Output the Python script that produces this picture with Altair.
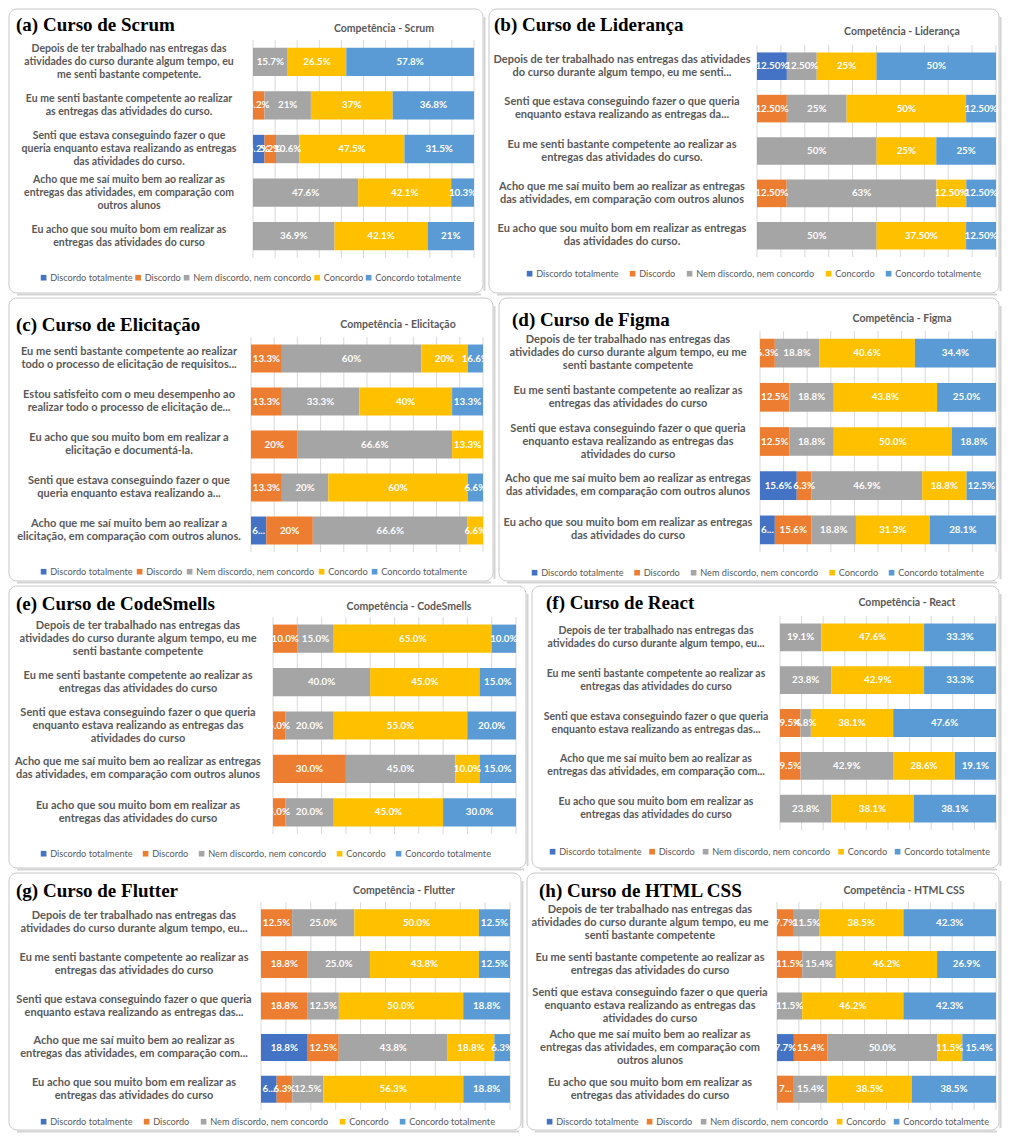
import altair as alt
import pandas as pd

CATS = ["Discordo totalmente", "Discordo", "Nem discordo, nem concordo", "Concordo", "Concordo totalmente"]
COLORS = ["#4472C4", "#ED7D31", "#A5A5A5", "#FFC000", "#5B9BD5"]

# ---------------- (a) Scrum ----------------
SCRUM_Q = [
    "Depois de ter trabalhado nas entregas das|atividades do curso durante algum tempo, eu|me senti bastante competente.",
    "Eu me senti bastante competente ao realizar|as entregas das atividades do curso.",
    "Senti que estava conseguindo fazer o que|queria enquanto estava realizando as entregas|das atividades do curso.",
    "Acho que me saí muito bem ao realizar as|entregas das atividades, em comparação com|outros alunos",
    "Eu acho que sou muito bom em realizar as|entregas das atividades do curso",
]
SCRUM_DT = [0, 0, 5.2, 0, 0]
SCRUM_D = [0, 5.2, 5.2, 0, 0]
SCRUM_N = [15.7, 21, 10.6, 47.6, 36.9]
SCRUM_C = [26.5, 37, 47.5, 42.1, 42.1]
SCRUM_CT = [57.8, 36.8, 31.5, 10.3, 21]

# ---------------- (b) Liderança ----------------
LID_Q = [
    "Depois de ter trabalhado nas entregas das atividades|do curso durante algum tempo, eu me senti...",
    "Senti que estava conseguindo fazer o que queria|enquanto estava realizando as entregas da...",
    "Eu me senti bastante competente ao realizar as|entregas das atividades do curso.",
    "Acho que me saí muito bem ao realizar as entregas|das atividades, em comparação com outros alunos",
    "Eu acho que sou muito bom em realizar as entregas|das atividades do curso.",
]
LID_DT = [12.5, 0, 0, 0, 0]
LID_D = [0, 12.5, 0, 12.5, 0]
LID_N = [12.5, 25, 50, 63, 50]
LID_C = [25, 50, 25, 12.5, 37.5]
LID_CT = [50, 12.5, 25, 12.5, 12.5]

# ---------------- (c) Elicitação ----------------
ELIC_Q = [
    "Eu me senti bastante competente ao realizar|todo o processo de elicitação de requisitos...",
    "Estou satisfeito com o meu desempenho ao|realizar todo o processo de elicitação de...",
    "Eu acho que sou muito bom em realizar a|elicitação e documentá-la.",
    "Senti que estava conseguindo fazer o que|queria enquanto estava realizando a...",
    "Acho que me saí muito bem ao realizar a|elicitação, em comparação com outros alunos.",
]
ELIC_DT = [0, 0, 0, 0, 6.6]
ELIC_D = [13.3, 13.3, 20, 13.3, 20]
ELIC_N = [60, 33.3, 66.6, 20, 66.6]
ELIC_C = [20, 40, 13.3, 60, 6.6]
ELIC_CT = [6.6, 13.3, 0, 6.6, 0]

# ---------------- (d) Figma ----------------
FIGMA_Q = [
    "Depois de ter trabalhado nas entregas das|atividades do curso durante algum tempo, eu me|senti bastante competente",
    "Eu me senti bastante competente ao realizar as|entregas das atividades do curso",
    "Senti que estava conseguindo fazer o que queria|enquanto estava realizando as entregas das|atividades do curso",
    "Acho que me saí muito bem ao realizar as entregas|das atividades, em comparação com outros alunos",
    "Eu acho que sou muito bom em realizar as entregas|das atividades do curso",
]
FIGMA_DT = [0, 0, 0, 15.6, 6.3]
FIGMA_D = [6.3, 12.5, 12.5, 6.3, 15.6]
FIGMA_N = [18.8, 18.8, 18.8, 46.9, 18.8]
FIGMA_C = [40.6, 43.8, 50.0, 18.8, 31.3]
FIGMA_CT = [34.4, 25.0, 18.8, 12.5, 28.1]

# ---------------- (e) CodeSmells ----------------
CODE_Q = [
    "Depois de ter trabalhado nas entregas das|atividades do curso durante algum tempo, eu me|senti bastante competente",
    "Eu me senti bastante competente ao realizar as|entregas das atividades do curso",
    "Senti que estava conseguindo fazer o que queria|enquanto estava realizando as entregas das|atividades do curso",
    "Acho que me saí muito bem ao realizar as entregas|das atividades, em comparação com outros alunos",
    "Eu acho que sou muito bom em realizar as|entregas das atividades do curso",
]
CODE_DT = [0, 0, 0, 0, 0]
CODE_D = [10, 0, 5, 30, 5]
CODE_N = [15, 40, 20, 45, 20]
CODE_C = [65, 45, 55, 10, 45]
CODE_CT = [10, 15, 20, 15, 30]

# ---------------- (f) React ----------------
REACT_Q = [
    "Depois de ter trabalhado nas entregas das|atividades do curso durante algum tempo, eu...",
    "Eu me senti bastante competente ao realizar as|entregas das atividades do curso",
    "Senti que estava conseguindo fazer o que queria|enquanto estava realizando as entregas das...",
    "Acho que me saí muito bem ao realizar as|entregas das atividades, em comparação com...",
    "Eu acho que sou muito bom em realizar as|entregas das atividades do curso",
]
REACT_DT = [0, 0, 0, 0, 0]
REACT_D = [0, 0, 9.5, 9.5, 0]
REACT_N = [19.1, 23.8, 4.8, 42.9, 23.8]
REACT_C = [47.6, 42.9, 38.1, 28.6, 38.1]
REACT_CT = [33.3, 33.3, 47.6, 19.1, 38.1]

# ---------------- (g) Flutter ----------------
FLUT_Q = [
    "Depois de ter trabalhado nas entregas das|atividades do curso durante algum tempo, eu...",
    "Eu me senti bastante competente ao realizar as|entregas das atividades do curso",
    "Senti que estava conseguindo fazer o que queria|enquanto estava realizando as entregas das...",
    "Acho que me saí muito bem ao realizar as|entregas das atividades, em comparação com...",
    "Eu acho que sou muito bom em realizar as|entregas das atividades do curso",
]
FLUT_DT = [0, 0, 0, 18.8, 6.3]
FLUT_D = [12.5, 18.8, 18.8, 12.5, 6.3]
FLUT_N = [25.0, 25.0, 12.5, 43.8, 12.5]
FLUT_C = [50.0, 43.8, 50.0, 18.8, 56.3]
FLUT_CT = [12.5, 12.5, 18.8, 6.3, 18.8]

# ---------------- (h) HTML CSS ----------------
HTML_Q = [
    "Depois de ter trabalhado nas entregas das|atividades do curso durante algum tempo, eu me|senti bastante competente",
    "Eu me senti bastante competente ao realizar as|entregas das atividades do curso",
    "Senti que estava conseguindo fazer o que queria|enquanto estava realizando as entregas das|atividades do curso",
    "Acho que me saí muito bem ao realizar as|entregas das atividades, em comparação com|outros alunos",
    "Eu acho que sou muito bom em realizar as|entregas das atividades do curso",
]
HTML_DT = [0, 0, 0, 7.7, 0]
HTML_D = [7.7, 11.5, 0, 15.4, 7.7]
HTML_N = [11.5, 15.4, 11.5, 50.0, 15.4]
HTML_C = [38.5, 46.2, 46.2, 11.5, 38.5]
HTML_CT = [42.3, 26.9, 42.3, 15.4, 38.5]

PANEL_TITLES = ["(a) Curso de Scrum", "(b) Curso de Liderança", "(c) Curso de Elicitação",
                "(d) Curso de Figma", "(e) Curso de CodeSmells", "(f) Curso de React",
                "(g) Curso de Flutter", "(h) Curso de HTML CSS"]
CHART_TITLES = ["Competência - Scrum", "Competência - Liderança", "Competência - Elicitação",
                "Competência - Figma", "Competência - CodeSmells", "Competência - React",
                "Competência - Flutter", "Competência - HTML CSS"]
LABEL_STYLES = ["short1", "short2", "short1", "fixed1", "fixed1", "fixed1", "fixed1", "fixed1"]
# data labels as printed in the figure where they differ from the plain value
LABEL_OVERRIDES = [{}, {}, {(0, 4): "16.6%", (4, 0): "6..."}, {(4, 0): "6..."}, {}, {},
                   {(4, 0): "6..."}, {(4, 1): "7..."}]
GRID = [0, 0.1, 0.2, 0.3, 0.4, 0.5, 0.6, 0.7, 0.8, 0.9, 1.0]

DATA = [
    (SCRUM_Q, [SCRUM_DT, SCRUM_D, SCRUM_N, SCRUM_C, SCRUM_CT]),
    (LID_Q, [LID_DT, LID_D, LID_N, LID_C, LID_CT]),
    (ELIC_Q, [ELIC_DT, ELIC_D, ELIC_N, ELIC_C, ELIC_CT]),
    (FIGMA_Q, [FIGMA_DT, FIGMA_D, FIGMA_N, FIGMA_C, FIGMA_CT]),
    (CODE_Q, [CODE_DT, CODE_D, CODE_N, CODE_C, CODE_CT]),
    (REACT_Q, [REACT_DT, REACT_D, REACT_N, REACT_C, REACT_CT]),
    (FLUT_Q, [FLUT_DT, FLUT_D, FLUT_N, FLUT_C, FLUT_CT]),
    (HTML_Q, [HTML_DT, HTML_D, HTML_N, HTML_C, HTML_CT]),
]

# ---------------- layout (page pixel coordinates) ----------------
# frame: (x0, y0, x1, y1); plot: (x0, y0, width, height); legend: (left x, centre y, column padding)
LAYOUT = [
    dict(frame=(8, 8, 482, 292), plot=(252, 39, 221, 218), title=(15, 24), ctitle=(383, 28), labc=128, qfs=10.5, legend=(38, 277, 0.5)),
    dict(frame=(487, 8, 997, 292), plot=(755, 44, 239, 212), title=(492, 24), ctitle=(900, 31), labc=620, qfs=11, legend=(523, 273, 9)),
    dict(frame=(8, 296, 492, 579), plot=(250, 335, 232, 215), title=(15, 323), ctitle=(397, 323), labc=128, qfs=11, legend=(38, 570, 2)),
    dict(frame=(497, 296, 997, 579), plot=(758, 329, 236, 221), title=(510, 318), ctitle=(900, 317), labc=626, qfs=11, legend=(528, 571, 8.5)),
    dict(frame=(8, 583, 525, 865), plot=(272, 614, 243, 217), title=(15, 601), ctitle=(408, 604), labc=137, qfs=11, legend=(38, 851, 8)),
    dict(frame=(530, 583, 997, 865), plot=(778, 613, 216, 214), title=(544, 600), ctitle=(905, 600), labc=654, qfs=10.5, legend=(546, 849, 5.5)),
    dict(frame=(8, 869, 520, 1126), plot=(260, 898, 249, 208), title=(15, 887), ctitle=(403, 887), labc=133, qfs=11, legend=(38, 1118, 9)),
    dict(frame=(525, 869, 997, 1126), plot=(775, 898, 219, 208), title=(537, 887), ctitle=(902, 887), labc=648, qfs=11, legend=(543, 1118, 6)),
]

FONT = "Lato"
GRAY_TXT = "#595959"
LINE_H = 13


def fmt(v, style):
    if style == "fixed1":
        return f"{v:.1f}%"
    if float(v) == int(v):
        return f"{int(v)}%"
    return f"{v:.2f}%" if style == "short2" else f"{v:.1f}%"


def panel(idx):
    questions, series = DATA[idx]
    qtext = [q.replace("|", "\n") for q in questions]
    L = LAYOUT[idx]
    fx0, fy0, fx1, fy1 = L["frame"]
    px0, py0, W, H = L["plot"]
    FW, FH = fx1 - fx0, fy1 - fy0
    pl, pt = px0 - fx0, py0 - fy0

    rows = []
    for i, q in enumerate(qtext):
        for k, cat in enumerate(CATS):
            v = series[k][i]
            if v > 0:
                lab = LABEL_OVERRIDES[idx].get((i, k), fmt(v, LABEL_STYLES[idx]))
                rows.append(dict(q=q, k=k, cat=cat, v=v, lab=lab))
    df = pd.DataFrame(rows)

    yscale = alt.Scale(domain=qtext, range=[pt, pt + H], paddingInner=0.35, paddingOuter=0.175)
    xscale = alt.Scale(domain=[0, 1], range=[pl, pl + W])
    yenc = alt.Y("q:N", sort=qtext, scale=yscale, axis=None)

    base = alt.Chart(df).transform_stack(
        stack="v", as_=["x0", "x1"], groupby=["q"], sort=[alt.SortField("k")], offset="normalize"
    ).transform_calculate(mid="(datum.x0 + datum.x1) / 2")

    grid = alt.Chart(pd.DataFrame({"g": GRID})).mark_rule(color="#d9d9d9", strokeWidth=1).encode(
        x=alt.X("g:Q", scale=xscale, axis=None), y=alt.value(pt), y2=alt.value(pt + H))

    bars = base.mark_bar().encode(
        y=yenc,
        x=alt.X("x0:Q", scale=xscale, axis=None),
        x2="x1:Q",
        color=alt.Color("cat:N", scale=alt.Scale(domain=CATS, range=COLORS),
                        legend=alt.Legend(orient="none", legendX=L["legend"][0] - fx0,
                                          legendY=L["legend"][1] - 5 - fy0, direction="horizontal",
                                          columns=5, title=None, symbolType="square",
                                          symbolSize=32, symbolStrokeWidth=0, labelFont=FONT,
                                          labelFontSize=9.2, labelColor=GRAY_TXT,
                                          columnPadding=L["legend"][2], labelOffset=2)),
    )
    text = base.mark_text(color="white", font=FONT, fontWeight="bold", fontSize=9.8).encode(
        y=yenc, x=alt.X("mid:Q", scale=xscale, axis=None), text="lab:N")

    # question labels, one layer per line count so each block is centred on its bar
    qlayers = []
    for n in sorted({q.count("\n") + 1 for q in qtext}):
        sub = [q for q in qtext if q.count("\n") + 1 == n]
        qlayers.append(alt.Chart(pd.DataFrame({"q": sub})).mark_text(
            align="center", baseline="middle", lineBreak="\n", lineHeight=LINE_H, font=FONT,
            fontWeight="bold", fontSize=L["qfs"], color=GRAY_TXT, dy=-(n - 1) * LINE_H / 2
        ).encode(y=yenc, x=alt.value(L["labc"] - fx0), text="q:N"))

    one = pd.DataFrame({"t": [PANEL_TITLES[idx]]})
    ct = pd.DataFrame({"t": [CHART_TITLES[idx]]})
    frame = alt.Chart(one).mark_rect(fill="white", fillOpacity=0, stroke="#c8c8c8", strokeWidth=1,
                                     cornerRadius=8).encode(
        x=alt.value(0), x2=alt.value(FW), y=alt.value(0), y2=alt.value(FH))
    shadow_b = alt.Chart(one).mark_rule(color="#d4d4d4", strokeWidth=2).encode(
        x=alt.value(8), x2=alt.value(FW - 2), y=alt.value(FH + 1.5))
    shadow_r = alt.Chart(one).mark_rule(color="#d4d4d4", strokeWidth=2).encode(
        x=alt.value(FW + 1.5), y=alt.value(8), y2=alt.value(FH - 2))
    title = alt.Chart(one).mark_text(align="left", baseline="middle", font="Liberation Serif",
                                     fontSize=19, fontWeight="bold", color="black").encode(
        x=alt.value(L["title"][0] - fx0), y=alt.value(L["title"][1] - fy0), text="t:N")
    ctitle = alt.Chart(ct).mark_text(align="center", baseline="middle", font=FONT,
                                     fontSize=10.5, fontWeight="bold", color=GRAY_TXT).encode(
        x=alt.value(L["ctitle"][0] - fx0), y=alt.value(L["ctitle"][1] - fy0), text="t:N")

    return alt.layer(frame, shadow_b, shadow_r, grid, bars, text, *qlayers, title, ctitle).properties(
        width=FW, height=FH)


rows = []
for r in range(4):
    rows.append(alt.hconcat(panel(2 * r), panel(2 * r + 1), spacing=2).resolve_scale(color="independent"))

chart = alt.vconcat(*rows, spacing=1).resolve_scale(color="independent").properties(
    padding=0, background="white"
).configure_view(strokeWidth=0)

chart.save("out.html", embed_options={"renderer": "svg", "actions": False})
